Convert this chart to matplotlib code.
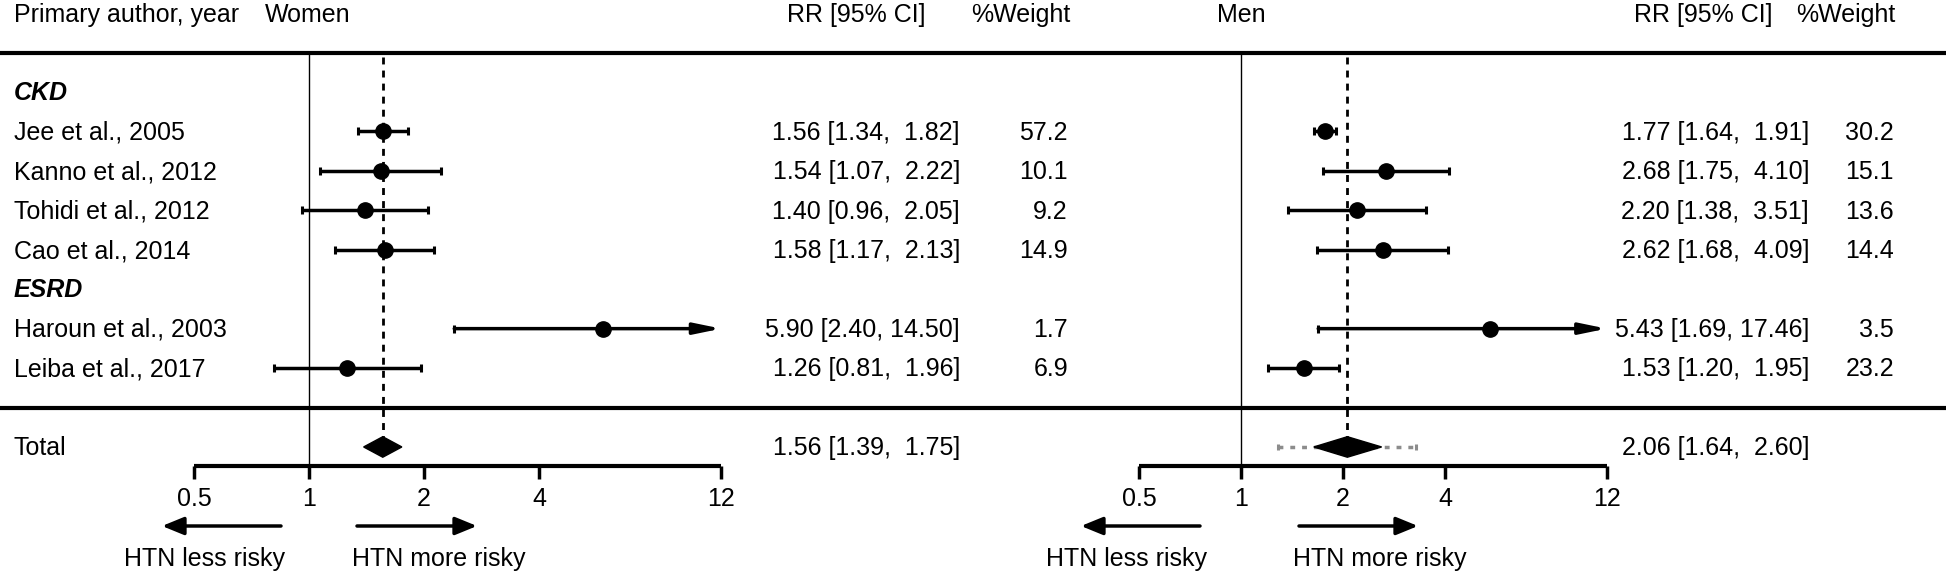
import numpy as np
import matplotlib
matplotlib.use("Agg")
import matplotlib.pyplot as plt

plt.rcParams['font.family'] = ['Liberation Sans', 'DejaVu Sans']

# ---------------- data ----------------
studies = ["Jee et al., 2005", "Kanno et al., 2012", "Tohidi et al., 2012",
           "Cao et al., 2014", "Haroun et al., 2003", "Leiba et al., 2017"]
groups = ["CKD", "CKD", "CKD", "CKD", "ESRD", "ESRD"]

women_rr = [1.56, 1.54, 1.40, 1.58, 5.90, 1.26]
women_lo = [1.34, 1.07, 0.96, 1.17, 2.40, 0.81]
women_hi = [1.82, 2.22, 2.05, 2.13, 14.50, 1.96]
women_w = [57.2, 10.1, 9.2, 14.9, 1.7, 6.9]

men_rr = [1.77, 2.68, 2.20, 2.62, 5.43, 1.53]
men_lo = [1.64, 1.75, 1.38, 1.68, 1.69, 1.20]
men_hi = [1.91, 4.10, 3.51, 4.09, 17.46, 1.95]
men_w = [30.2, 15.1, 13.6, 14.4, 3.5, 23.2]

women_total = [1.56, 1.39, 1.75]
men_total = [2.06, 1.64, 2.60]
men_pi = [1.29, 3.28]

axis_ticks = [0.5, 1, 2, 4, 12]
tick_labels = ["0.5", "1", "2", "4", "12"]

# ---------------- layout ----------------
W, H = 1946, 575
DPI = 100
ROW0 = 92.0      # pixel y of first row
ROWH = 39.44     # pixel height of one row
FS = 18

def prow(px):
    return (px - ROW0) / ROWH

ylim = (prow(H), prow(0))

fig = plt.figure(figsize=(W / DPI, H / DPI), dpi=DPI)
fig.patch.set_facecolor("white")

ax0 = fig.add_axes([0, 0, 1, 1])
ax0.set_xlim(0, W)
ax0.set_ylim(*ylim)
ax0.axis("off")

# row assignment
rows = []
headers = []
r = 0
prev = None
for g in groups:
    if g != prev:
        headers.append((g, r))
        r += 1
        prev = g
    rows.append(r)
    r += 1
sep_row = r            # 8
total_row = r + 1      # 9
axis_row = prow(466)
top_line_row = -1

BL = 0.21  # baseline offset for text in a row

# horizontal rules
ax0.hlines([top_line_row, sep_row], 0, W, color="black", lw=3)

# header texts
hy = prow(22)
ax0.text(14, hy, "Primary author, year", fontsize=FS, va="baseline", ha="left")
ax0.text(265, hy, "Women", fontsize=FS, va="baseline", ha="left")
ax0.text(1217, hy, "Men", fontsize=FS, va="baseline", ha="left")
ax0.text(787, hy, "RR [95% CI]", fontsize=FS, va="baseline", ha="left")
ax0.text(1070, hy, "%Weight", fontsize=FS, va="baseline", ha="right")
ax0.text(1634, hy, "RR [95% CI]", fontsize=FS, va="baseline", ha="left")
ax0.text(1895, hy, "%Weight", fontsize=FS, va="baseline", ha="right")

for g, hr in headers:
    ax0.text(14, hr + BL, g, fontsize=FS, va="baseline", ha="left",
             fontweight="bold", fontstyle="italic")
for name, rr_ in zip(studies, rows):
    ax0.text(14, rr_ + BL, name, fontsize=FS, va="baseline", ha="left")
ax0.text(14, total_row + BL, "Total", fontsize=FS, va="baseline", ha="left")


def fmt(e, lo, hi):
    return f"{e:.2f} [{lo:.2f}, {hi:5.2f}]"


def draw_panel(left_px, right_px, one_px, per2, rr, lo, hi, wt, total,
               rr_x, w_x, pi=None):
    a = fig.add_axes([left_px / W, 0, (right_px - left_px) / W, 1])
    a.set_xscale("log", base=2)
    a.set_xlim(2 ** ((left_px - one_px) / per2), 2 ** ((right_px - one_px) / per2))
    a.set_ylim(*ylim)
    a.axis("off")
    a.patch.set_alpha(0)
    xmin, xmax = axis_ticks[0], axis_ticks[-1]

    # reference line at 1
    a.vlines(1, top_line_row, axis_row, color="black", lw=1.0)
    # dashed line at summary estimate
    a.plot([total[0], total[0]], [top_line_row + 0.1, total_row + 0.3],
           color="black", lw=2, linestyle=(0, (2.5, 2.2)))

    capw = 0.1
    for e, l, h, w, y in zip(rr, lo, hi, wt, rows):
        if h > xmax:
            a.annotate("", xy=(xmax, y), xytext=(l, y),
                       arrowprops=dict(arrowstyle="-|>,head_length=1.6,head_width=0.33",
                                       lw=2.5, color="black", shrinkA=0, shrinkB=0,
                                       mutation_scale=10))
            a.vlines([l], y - capw, y + capw, color="black", lw=2.2)
        else:
            a.hlines(y, l, h, color="black", lw=2.5)
            a.vlines([l, h], y - capw, y + capw, color="black", lw=2.2)
        a.plot([e], [y], "o", color="black", ms=11, zorder=5)
        ax0.text(rr_x, y + BL, fmt(e, l, h), fontsize=FS, va="baseline", ha="right")
        ax0.text(w_x, y + BL, f"{w:.1f}", fontsize=FS, va="baseline", ha="right")

    # prediction interval
    if pi is not None:
        a.plot([pi[0], pi[1]], [total_row, total_row], color="#8c8c8c", lw=2.5,
               linestyle=(0, (1.4, 2.0)), zorder=3)
        a.vlines(pi, total_row - 0.08, total_row + 0.08, color="#8c8c8c", lw=2.2)
    # diamond
    e, l, h = total
    dh = 0.26
    a.fill([l, e, h, e], [total_row, total_row - dh, total_row, total_row + dh],
           color="black", zorder=4)
    ax0.text(rr_x, total_row + BL, fmt(e, l, h), fontsize=FS, va="baseline", ha="right")

    # x axis
    a.hlines(axis_row, xmin, xmax, color="black", lw=3)
    a.vlines(axis_ticks, axis_row, axis_row + 0.32, color="black", lw=2.5)
    for t, lab in zip(axis_ticks, tick_labels):
        a.text(t, prow(506), lab, fontsize=FS, ha="center", va="baseline")
    return a


axW = draw_panel(140, 760, 309, 115, women_rr, women_lo, women_hi, women_w,
                 women_total, 960, 1068)
axM = draw_panel(1040, 1620, 1241, 102, men_rr, men_lo, men_hi, men_w,
                 men_total, 1809, 1894, pi=men_pi)

# direction arrows and labels
arr_y = prow(526)
lab_y = prow(566)
aprops = dict(arrowstyle="-|>,head_length=1.1,head_width=0.45", lw=2.5,
              color="black", shrinkA=0, shrinkB=0, mutation_scale=12)
for x0, x1 in [(281, 162), (357, 477), (1200, 1081), (1299, 1418)]:
    ax0.annotate("", xy=(x1, arr_y), xytext=(x0, arr_y), arrowprops=aprops)
for xc, s in [(205, "HTN less risky"), (439, "HTN more risky"),
              (1127, "HTN less risky"), (1380, "HTN more risky")]:
    ax0.text(xc, lab_y, s, fontsize=FS, ha="center", va="baseline")

fig.savefig("out.png", dpi=DPI, facecolor="white")
